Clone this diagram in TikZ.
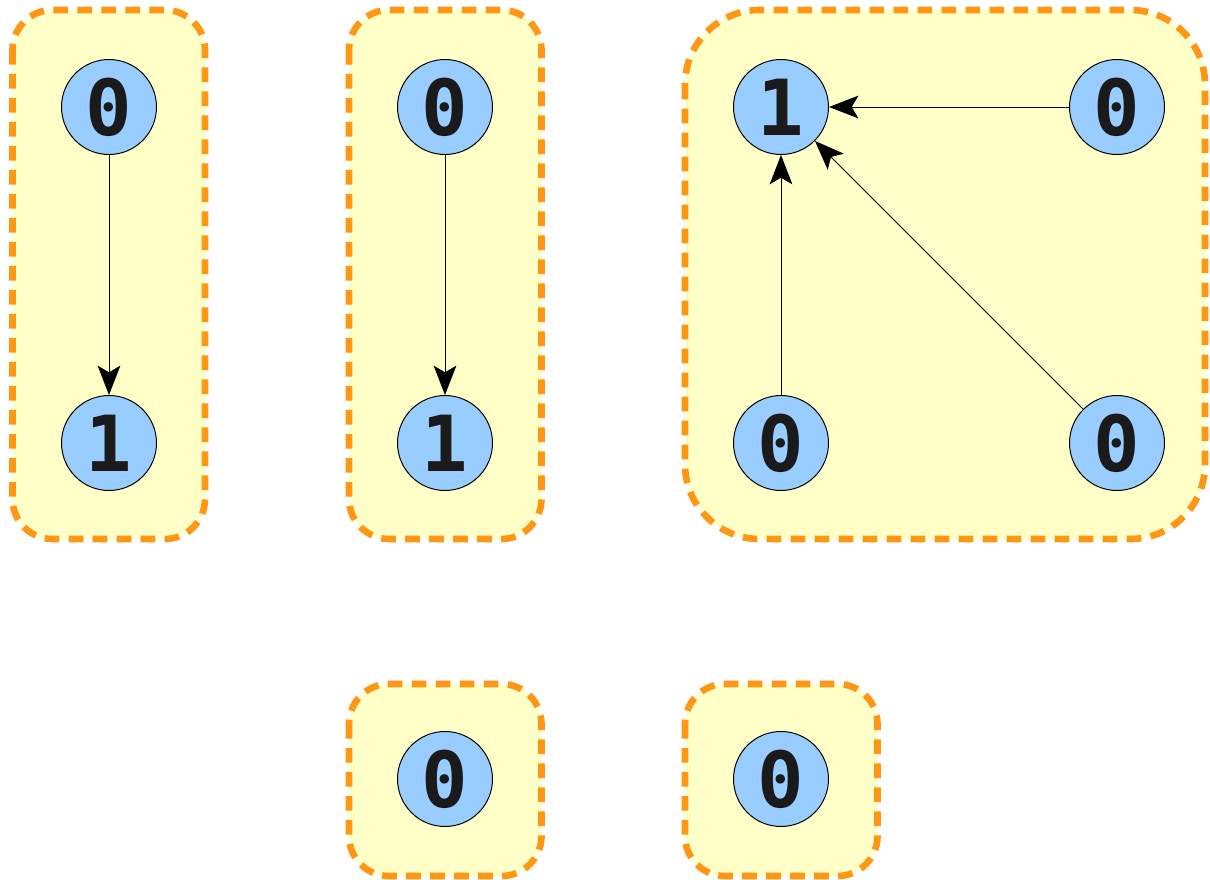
\documentclass[tikz,border=0pt]{standalone}
\usepackage{fontspec}
\newfontfamily\digitfont{DejaVu Sans Mono}
\usetikzlibrary{arrows.meta}
\definecolor{nodeblue}{RGB}{153,204,255}
\definecolor{clusterfill}{RGB}{255,255,200}
\definecolor{clusterline}{RGB}{255,150,20}
\definecolor{digitcol}{RGB}{26,26,26}
\tikzset{
  vert/.style={circle, draw=black, line width=0.75pt, fill=nodeblue,
    minimum size=71.25pt, inner sep=0pt,
    font=\digitfont\bfseries\fontsize{58}{58}\selectfont, text=digitcol},
  clusterbox/.style={draw=clusterline, fill=clusterfill, line width=5pt,
    dash pattern=on 11pt off 7pt},
  arr/.style={draw=black, line width=0.6pt,
    -{Stealth[length=22pt, width=17pt, inset=5pt]}},
}
\begin{document}
\begin{tikzpicture}[x=0.75pt, y=-0.75pt]
\useasboundingbox (0,0) rectangle (1210,880);
% clusters
\path[clusterbox, rounded corners=30pt] (12.5,10) rectangle (205,539);
\path[clusterbox, rounded corners=30pt] (349,10) rectangle (541.5,539);
\path[clusterbox, rounded corners=56pt] (685,10) rectangle (1205,539);
\path[clusterbox, rounded corners=30pt] (349,684) rectangle (541.5,876);
\path[clusterbox, rounded corners=30pt] (685,684) rectangle (877.5,876);
% nodes
\node[vert] (a0) at (109,107) {0};
\node[vert] (a1) at (109,443) {1};
\node[vert] (b0) at (445,107) {0};
\node[vert] (b1) at (445,443) {1};
\node[vert] (c1) at (781,107) {1};
\node[vert] (c2) at (1117,107) {0};
\node[vert] (c3) at (781,443) {0};
\node[vert] (c4) at (1117,443) {0};
\node[vert] (d0) at (445,779) {0};
\node[vert] (e0) at (781,779) {0};
% edges
\draw[arr] (a0) -- (a1);
\draw[arr] (b0) -- (b1);
\draw[arr] (c2) -- (c1);
\draw[arr] (c3) -- (c1);
\draw[arr] (c4) -- (c1);
\end{tikzpicture}
\end{document}
